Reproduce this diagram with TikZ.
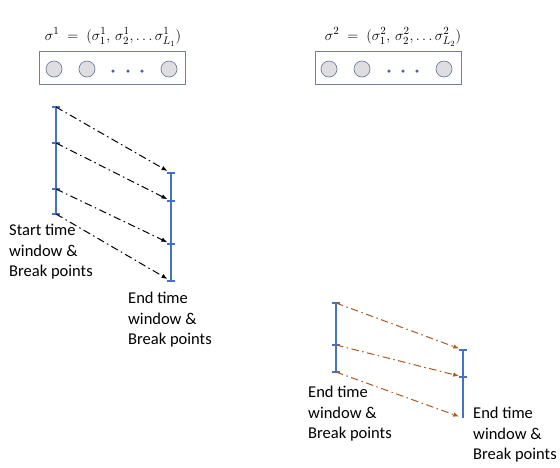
\documentclass[tikz,border=0pt]{standalone}
\usepackage{amsmath}
\usepackage{fontspec}
\usetikzlibrary{arrows.meta,positioning,calc}
\newfontfamily\labelfont{Carlito}
\definecolor{barBlue}{RGB}{68,114,196}
\definecolor{boxEdge}{RGB}{110,128,155}
\definecolor{geneFill}{RGB}{222,222,226}
\definecolor{dotBlue}{RGB}{70,100,170}
\definecolor{linkBrown}{RGB}{170,90,30}

\begin{document}
\begin{tikzpicture}[
  x=1pt, y=-1pt,
  font=\labelfont,
  seqbox/.style={draw=boxEdge, line width=0.9pt, minimum width=146pt, minimum height=33pt, inner sep=0pt},
  gene/.style={circle, draw=boxEdge, fill=geneFill, line width=0.7pt, minimum size=16pt, inner sep=0pt},
  gapmark/.style={circle, fill=dotBlue, minimum size=3.5pt, inner sep=0pt},
  title/.style={font=\fontsize{15.5}{17}\selectfont},
  bar/.style={draw=barBlue, line width=2pt},
  tick/.style={draw=barBlue, line width=1.6pt},
  link/.style={-{Latex[length=6pt,width=4.5pt]}, line width=1pt, dash pattern=on 7.5pt off 3.5pt on 1.5pt off 3.5pt, shorten >=4pt},
  caption/.style={align=left, anchor=north west, inner sep=0pt, font=\labelfont\fontsize{16.5}{20.5}\selectfont}
]
\useasboundingbox (0,0) rectangle (560,467);

% Sequence 1
\node[title] (tA) at (113,37) {$\sigma^1 \;=\; (\sigma^1_1,\, \sigma^1_2,\mathinner{\ldotp\ldotp\ldotp}\sigma^1_{L_1})$};
\node[seqbox] (sA) at (112,67.5) {};
\node[gene] (a1) at (54,69) {};
\node[gene] (a2) at (87,69) {};
\node[gene] (a3) at (169,69) {};
\foreach \x [count=\i] in {113,128,142} \node[gapmark] (ad\i) at (\x,71) {};

% Sequence 2
\node[title] (tB) at (393,37) {$\sigma^2 \;=\; (\sigma^2_1,\, \sigma^2_2,\mathinner{\ldotp\ldotp\ldotp}\sigma^2_{L_2})$};
\node[seqbox] (sB) at (388,67.5) {};
\node[gene] (b1) at (329,69) {};
\node[gene] (b2) at (362,69) {};
\node[gene] (b3) at (444,69) {};
\foreach \x [count=\i] in {389,403,417} \node[gapmark] (bd\i) at (\x,71) {};

% Left diagram: start -> end
\foreach \y [count=\i] in {107,143,189,214} \coordinate (s\i) at (56,\y);
\foreach \y [count=\i] in {173,201,244,281} \coordinate (e\i) at (171,\y);
\draw[bar] (s1) -- (s4);
\draw[bar] (e1) -- (e4);
\foreach \i in {1,...,4} {
  \draw[tick] ($(s\i)+(-4,0)$) -- ($(s\i)+(4,0)$);
  \draw[tick] ($(e\i)+(-4,0)$) -- ($(e\i)+(4,0)$);
  \draw[link] (s\i) -- (e\i);
}
\node[caption] (capS) at (9,224) {Start time\\window \&\\Break points};
\node[caption] (capE) at (128,292) {End time\\window \&\\Break points};

% Right diagram: end -> end
\foreach \y [count=\i] in {303,345,372} \coordinate (p\i) at (336,\y);
\foreach \y [count=\i] in {350,377,418} \coordinate (q\i) at (463,\y);
\draw[bar] (p1) -- (p3);
\draw[bar] (q1) -- (q3);
\foreach \i in {1,...,3} {
  \draw[tick] ($(p\i)+(-4,0)$) -- ($(p\i)+(4,0)$);
  \draw[link, linkBrown] (p\i) -- (q\i);
}
\foreach \i in {1,2} \draw[tick] ($(q\i)+(-4,0)$) -- ($(q\i)+(4,0)$);
\node[caption] (capP) at (308,386) {End time\\window \&\\Break points};
\node[caption] (capQ) at (473,407) {End time\\window \&\\Break points};

\end{tikzpicture}
\end{document}
